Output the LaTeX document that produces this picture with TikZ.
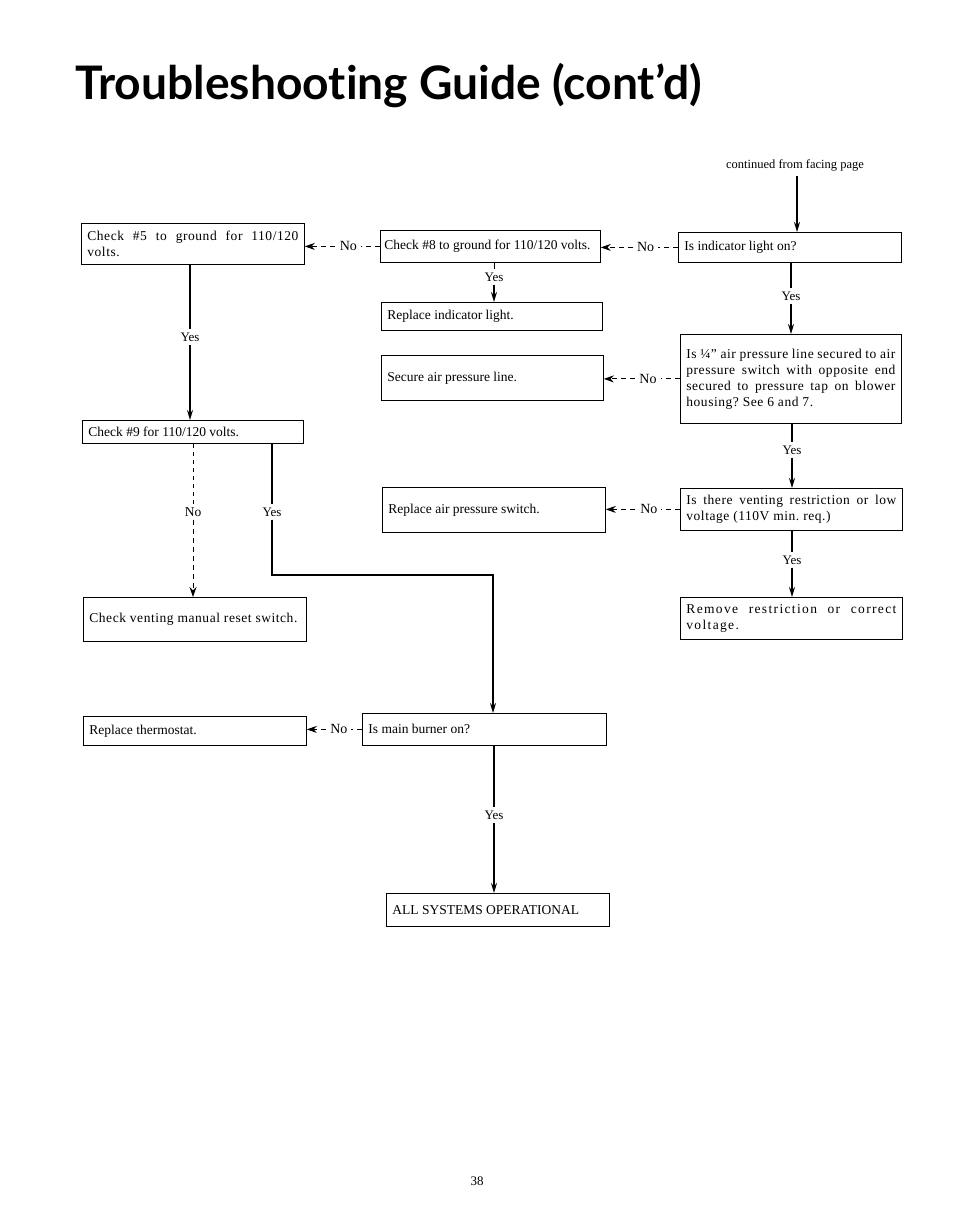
\documentclass[tikz,border=0pt]{standalone}
\usepackage{fontspec}
\setmainfont{Liberation Serif}
\newfontfamily\titlefont{Lato}[Ligatures={NoCommon}]
\usetikzlibrary{arrows.meta}
\newcommand\jline[1]{{\spaceskip=0pt\xspaceskip=0pt\makebox[\hsize][s]{#1}}\\}
\frenchspacing
\begin{document}
\begin{tikzpicture}[x=1pt,y=-1pt,
  box/.style={draw, line width=0.8pt, anchor=north west, inner xsep=6pt, inner ysep=2pt,
    align=left, font=\frenchspacing\fontsize{13.5}{16}\selectfont,
    execute at begin node={\spaceskip=0pt\xspaceskip=0pt}},
  wide/.style={font=\frenchspacing\fontsize{13.5}{16}\selectfont\addfontfeature{LetterSpace=4}},
  wider/.style={font=\frenchspacing\fontsize{13.5}{16}\selectfont\addfontfeature{LetterSpace=10}},
  flow/.style={line width=1.5pt},
  flowarrow/.style={line width=1.5pt, -{Stealth[length=10pt,width=6pt]}},
  noarrow/.style={line width=1pt, dash pattern=on 5pt off 4pt, -{Stealth[length=10pt,width=7pt]}},
  nodash/.style={line width=1pt, dash pattern=on 4pt off 4pt},
  lbl/.style={font=\fontsize{13}{15}\selectfont, inner sep=3pt},
  nolbl/.style={font=\fontsize{14}{15}\selectfont, fill=white, inner sep=4pt}
]
\useasboundingbox (0,0) rectangle (954,1230);

% title
\node[anchor=base west, inner sep=0] (title) at (75,100)
  {\resizebox{627pt}{!}{\titlefont\bfseries Troubleshoot\kern0pt ing Guide (cont’d)}};

% boxes
\node[box, wide, minimum width=223pt, minimum height=41pt, text width=211pt] (A) at (81,223)
  {\jline{Check \#5 to ground for 110/120}volts.};
\node[box, inner xsep=4pt, minimum width=220pt, minimum height=32pt, text width=212pt] (B) at (380,230)
  {Check \#8 to ground for 110/120 volts.};
\node[box, minimum width=223pt, minimum height=30pt, text width=211pt] (C) at (678,232)
  {Is indicator light on?};
\node[box, minimum width=221pt, minimum height=28pt, text width=209pt] (D) at (381,302)
  {Replace indicator light.};
\node[box, minimum width=222pt, minimum height=45pt, text width=210pt] (E) at (381,355)
  {Secure air pressure line.};
\node[box, wide, minimum width=221pt, minimum height=89pt, text width=209pt] (F) at (680,334)
  {\jline{Is ¼" air pressure line secured to air}\jline{pressure switch with opposite end}\jline{secured to pressure tap on blower}housing? See 6 and 7.};
\node[box, minimum width=221pt, minimum height=23pt, text width=209pt] (G) at (82,420)
  {Check \#9 for 110/120 volts.};
\node[box, minimum width=223pt, minimum height=45pt, text width=211pt] (H) at (382,487)
  {Replace air pressure switch.};
\node[box, wide, minimum width=222pt, minimum height=42pt, text width=210pt] (I) at (680,488)
  {\jline{Is there venting restriction or low}voltage (110V min. req.)};
\node[box, wide, minimum width=223pt, minimum height=44pt, text width=211pt] (J) at (83,597)
  {Check venting manual reset switch.};
\node[box, wider, minimum width=222pt, minimum height=42pt, text width=210pt] (K) at (680,597)
  {\jline{Remove restriction or correct}voltage.};
\node[box, minimum width=223pt, minimum height=29pt, text width=211pt] (L) at (83,716)
  {Replace thermostat.};
\node[box, minimum width=244pt, minimum height=32pt, text width=232pt] (M) at (362,713)
  {Is main burner on?};
\node[box, minimum width=223pt, minimum height=33pt, text width=211pt] (N) at (386,893)
  {ALL SYSTEMS OPERATIONAL};

% continued
\node[lbl, font=\fontsize{12.5}{14}\selectfont] (cont) at (795,165) {continued from facing page};
\coordinate (c0) at (797,176);
\draw[flowarrow] (c0) -- (c0 |- C.north);

% Yes labels
\node[lbl] (y1) at (791,296) {Yes};
\node[lbl] (y2) at (792,450) {Yes};
\node[lbl] (y3) at (792,560) {Yes};
\node[lbl] (y4) at (494,277) {Yes};
\node[lbl] (y5) at (190,337) {Yes};
\node[lbl] (y7) at (272,512) {Yes};
\node[lbl] (y8) at (494,815) {Yes};
\node[lbl, font=\fontsize{13.5}{15}\selectfont] (n6) at (193,512) {No};

% solid yes connectors
\draw[flow] (y1 |- C.south) -- (y1.north);
\draw[flowarrow] (y1.south) -- (y1 |- F.north);
\draw[flow] (y2 |- F.south) -- (y2.north);
\draw[flowarrow] (y2.south) -- (y2 |- I.north);
\draw[flow] (y3 |- I.south) -- (y3.north);
\draw[flowarrow] (y3.south) -- (y3 |- K.north);
\draw[line width=1pt] (y4 |- B.south) -- (y4.north);
\draw[flowarrow] (y4.south) -- (y4 |- D.north);
\draw[flow] (y5 |- A.south) -- (y5.north);
\draw[flowarrow] (y5.south) -- (y5 |- G.north);
\draw[flow] (y7 |- G.south) -- (y7.north);
\coordinate (k1) at (493,575);
\draw[flowarrow] (y7.south) |- (k1) -- (k1 |- M.north);
\draw[flow] (y8 |- M.south) -- (y8.north);
\draw[flowarrow] (y8.south) -- (y8 |- N.north);

% dashed no connector G -> J
\draw[nodash] (n6 |- G.south) -- (n6.north);
\draw[noarrow] (n6.south) -- (n6 |- J.north);

% horizontal No connectors
\draw[noarrow] (C.west) -- node[nolbl, pos=0.42] {No} (C.west -| B.east);
\draw[noarrow] (B.west) -- node[nolbl, pos=0.42] {No} (B.west -| A.east);
\draw[noarrow] (F.west) -- node[nolbl, pos=0.42] {No} (F.west -| E.east);
\draw[noarrow] (I.west) -- node[nolbl, pos=0.42] {No} (I.west -| H.east);
\draw[noarrow] (M.west) -- node[nolbl, pos=0.42] {No} (M.west -| L.east);

% page number
\node[lbl] (pg) at (477,1181) {38};
\end{tikzpicture}
\end{document}
